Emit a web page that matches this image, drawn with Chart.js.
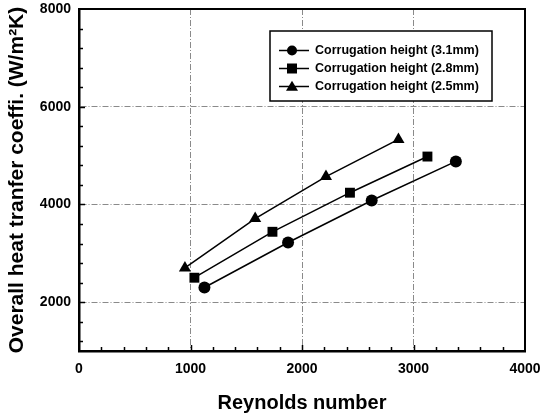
<!DOCTYPE html>
<html>
<head>
<meta charset="utf-8">
<script src="https://cdn.jsdelivr.net/npm/chart.js@4"></script>
<style>
  html, body { margin: 0; padding: 0; background: #fff; }
  #wrap { width: 541px; height: 416px; }
</style>
</head>
<body>
<div id="wrap"><canvas id="chart" width="541" height="416"></canvas></div>
<script>
// Values
const labels = ['Corrugation height (3.1mm)', 'Corrugation height (2.8mm)', 'Corrugation height (2.5mm)'];
const pointStyles = ['circle', 'rect', 'triangle'];

const re31 = [1125, 1875, 2625, 3380];
const h31 = [2300, 3220, 4080, 4880];
const re28 = [1035, 1735, 2430, 3125];
const h28 = [2500, 3440, 4240, 4980];
const re25 = [950, 1580, 2215, 2865];
const h25 = [2700, 3710, 4570, 5330];

const xTicks = [0, 1000, 2000, 3000, 4000];
const yTicks = [2000, 4000, 6000, 8000];

const FONT = "'Liberation Sans', Arial, sans-serif";

const toPoints = (xs, ys) => xs.map((x, i) => ({ x: x, y: ys[i] }));
const series = [toPoints(re31, h31), toPoints(re28, h28), toPoints(re25, h25)];

// small marker drawer for the legend
function marker(ctx, style, x, y, r) {
    ctx.beginPath();
    if (style === 'circle') {
        ctx.arc(x, y, r, 0, Math.PI * 2);
    } else if (style === 'rect') {
        ctx.rect(x - r, y - r, r * 2, r * 2);
    } else {
        ctx.moveTo(x, y - r * 1.15);
        ctx.lineTo(x + r * 1.2, y + r * 0.85);
        ctx.lineTo(x - r * 1.2, y + r * 0.85);
        ctx.closePath();
    }
    ctx.fill();
}

// inward tick marks + top/right frame
const frame = {
    id: 'frame',
    afterDraw(chart) {
        const { ctx, chartArea: a, scales: { x, y } } = chart;
        ctx.save();
        ctx.strokeStyle = '#000';
        ctx.lineWidth = 1.5;
        for (let v = 200; v < 4000; v += 200) {
            const px = Math.round(x.getPixelForValue(v)) + 0.5;
            const len = v % 1000 === 0 ? 6 : 4;
            ctx.beginPath();
            ctx.moveTo(px, a.bottom);
            ctx.lineTo(px, a.bottom - len);
            ctx.stroke();
        }
        for (let v = 1200; v < 8000; v += 400) {
            const py = Math.round(y.getPixelForValue(v)) + 0.5;
            const len = v % 2000 === 0 ? 6 : 4;
            ctx.beginPath();
            ctx.moveTo(a.left, py);
            ctx.lineTo(a.left + len, py);
            ctx.stroke();
        }
        ctx.lineWidth = 2;
        ctx.beginPath();
        ctx.moveTo(a.left, a.top);
        ctx.lineTo(a.right, a.top);
        ctx.lineTo(a.right, a.bottom);
        ctx.stroke();
        ctx.restore();
    }
};

// boxed legend with line-through markers
const boxLegend = {
    id: 'boxLegend',
    afterDraw(chart) {
        const ctx = chart.ctx;
        const bx = 270, by = 31, bw = 222, bh = 70;
        ctx.save();
        ctx.fillStyle = '#fff';
        ctx.fillRect(bx, by, bw, bh);
        ctx.strokeStyle = '#000';
        ctx.lineWidth = 1.5;
        ctx.strokeRect(bx, by, bw, bh);
        ctx.font = 'bold 12.5px ' + FONT;
        ctx.textBaseline = 'middle';
        ctx.textAlign = 'left';
        chart.data.datasets.forEach((ds, i) => {
            const cy = by + 19.5 + i * 18;
            ctx.strokeStyle = '#000';
            ctx.lineWidth = 1.5;
            ctx.beginPath();
            ctx.moveTo(bx + 9, cy);
            ctx.lineTo(bx + 39, cy);
            ctx.stroke();
            ctx.fillStyle = '#000';
            marker(ctx, ds.pointStyle, bx + 22, cy, 5);
            ctx.fillText(ds.label, bx + 45, cy + 0.5);
        });
        ctx.restore();
    }
};

new Chart(document.getElementById('chart'), {
    type: 'scatter',
    data: {
        datasets: series.map((pts, i) => ({
            label: labels[i],
            data: pts,
            showLine: true,
            borderColor: '#000',
            backgroundColor: '#000',
            borderWidth: 1.5,
            pointStyle: pointStyles[i],
            pointRadius: i === 0 ? 6 : 7,
            pointBorderWidth: 0,
            tension: 0
        }))
    },
    options: {
        responsive: false,
        animation: false,
        devicePixelRatio: 1,
        layout: { padding: { left: 0, right: 16, top: 9, bottom: 0 } },
        plugins: {
            legend: { display: false },
            tooltip: { enabled: false }
        },
        scales: {
            x: {
                type: 'linear',
                min: 0,
                max: 4000,
                afterBuildTicks: (s) => { s.ticks = xTicks.map(v => ({ value: v })); },
                afterFit: (s) => { s.height = 65; s.paddingLeft = 0; s.paddingRight = 0; },
                grid: { color: '#8a8a8a', lineWidth: 1, drawTicks: false },
                border: { display: true, color: '#000', width: 2.5, dash: [6, 2, 1, 2] },
                ticks: {
                    color: '#000',
                    padding: 10,
                    maxRotation: 0,
                    callback: (v) => String(v),
                    font: { family: FONT, size: 14, weight: 'bold' }
                },
                title: {
                    display: true,
                    text: 'Reynolds number',
                    color: '#000',
                    padding: { top: 0, bottom: 1 },
                    font: { family: FONT, size: 20, weight: 'bold', lineHeight: 1.2 }
                }
            },
            y: {
                type: 'linear',
                min: 1000,
                max: 8000,
                afterBuildTicks: (s) => { s.ticks = yTicks.map(v => ({ value: v })); },
                afterFit: (s) => { s.width = 79; s.paddingTop = 0; s.paddingBottom = 0; },
                grid: { color: '#8a8a8a', lineWidth: 1, drawTicks: false },
                border: { display: true, color: '#000', width: 2.5, dash: [6, 2, 1, 2] },
                ticks: {
                    color: '#000',
                    padding: 8,
                    callback: (v) => String(v),
                    font: { family: FONT, size: 14, weight: 'bold' }
                },
                title: {
                    display: true,
                    text: 'Overall heat tranfer coeffi. (W/m\u00B2K)',
                    color: '#000',
                    padding: { top: 5, bottom: 0 },
                    font: { family: FONT, size: 21, weight: 'bold', lineHeight: 1.2 }
                }
            }
        }
    },
    plugins: [frame, boxLegend]
});
</script>
</body>
</html>
